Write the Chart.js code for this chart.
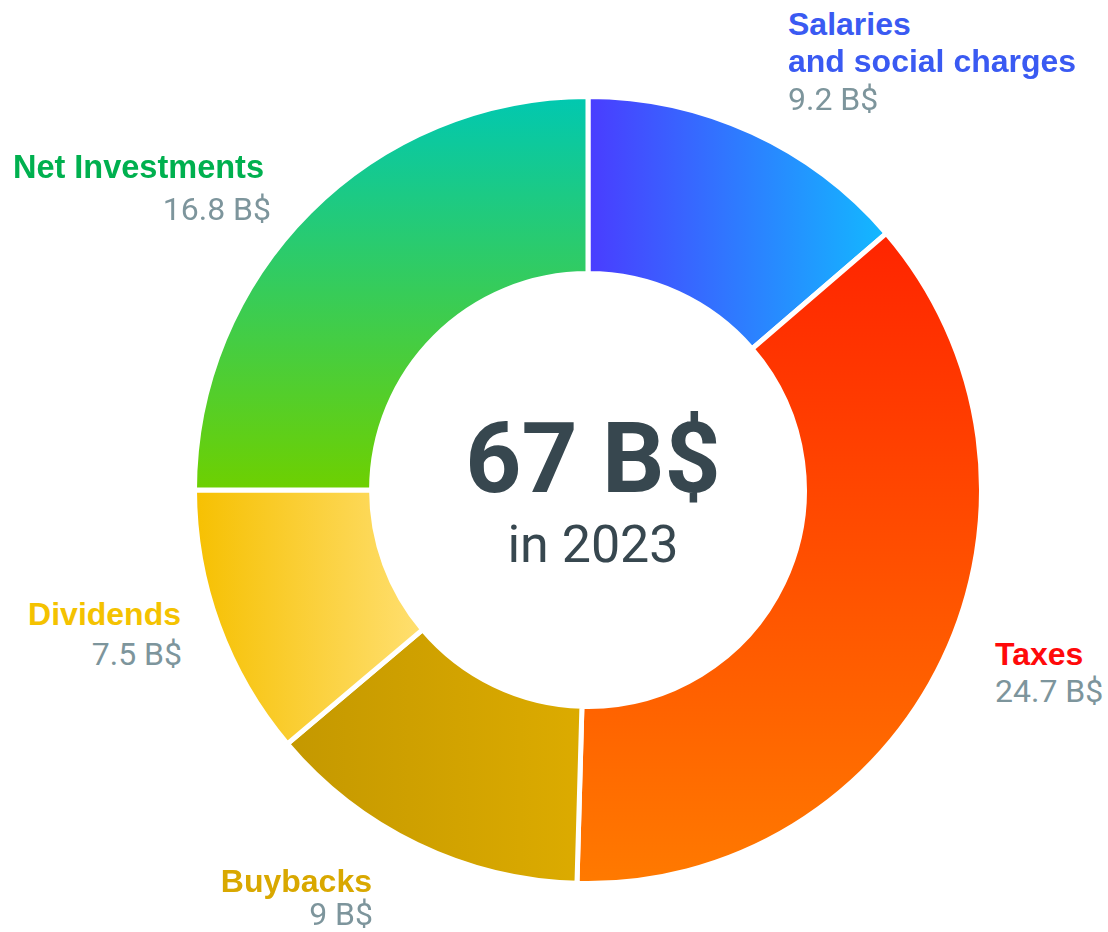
<!DOCTYPE html>
<html>
<head>
<meta charset="utf-8">
<script src="https://cdn.jsdelivr.net/npm/chart.js@4.4.1/dist/chart.umd.min.js"></script>
<style>
    html, body { margin: 0; padding: 0; background: #fff; }
    body { width: 1108px; height: 932px; position: relative; overflow: hidden; }
    #chartBox { position: absolute; left: 192px; top: 94px; width: 792px; height: 792px; }
    .lbl { position: absolute; white-space: nowrap; line-height: 1; }
    .title { font-family: "Liberation Sans", Arial, sans-serif; font-weight: bold; font-size: 32px; }
    .val { font-family: Roboto, sans-serif; font-size: 32px; color: #7d959c; }
    .center { position: absolute; left: 393px; width: 400px; text-align: center; font-family: Roboto, sans-serif; color: #37474f; line-height: 1; }
</style>
</head>
<body>
<div id="chartBox"><canvas id="chartRef"></canvas></div>

<div class="lbl title" id="t0" style="left:788px; top:8px;"></div>
<div class="lbl title" id="t0b" style="left:788px; top:45px;"></div>
<div class="lbl val" id="v0" style="left:788px; top:83px;"></div>

<div class="lbl title" id="t1" style="left:995px; top:638px;"></div>
<div class="lbl val" id="v1" style="left:995px; top:675px;"></div>

<div class="lbl title" id="t2" style="right:736px; top:865px;"></div>
<div class="lbl val" id="v2" style="right:735px; top:898px;"></div>

<div class="lbl title" id="t3" style="right:927px; top:598px;"></div>
<div class="lbl val" id="v3" style="right:926px; top:638px;"></div>

<div class="lbl title" id="t4" style="right:844px; top:151px; font-size:32.5px;"></div>
<div class="lbl val" id="v4" style="right:837px; top:193px;"></div>

<div class="center" id="totalText" style="top:410px; font-size:98px; font-weight:bold;"></div>
<div class="center" id="yearText" style="top:519px; font-size:52px;"></div>

<script>
// data
const categories = ["Salaries\nand social charges", "Taxes", "Buybacks", "Dividends", "Net Investments"];
const values = [9.2, 24.7, 9, 7.5, 16.8];
const year = "2023";
const unit = "B$";

// styling per segment: gradient direction, start/end colours, label colour
const gradDir = ["h", "v", "h", "h", "v"];
const gradFrom = ["#4a3cff", "#ff2400", "#c49800", "#f6c000", "#00c8b2"];
const gradTo = ["#12baff", "#ff7a00", "#dcab00", "#ffdf70", "#6ed000"];
const titleColors = ["#3a5af2", "#ff0a0a", "#d9a800", "#f4c200", "#00b04f"];

document.addEventListener("DOMContentLoaded", () => {
    // labels
    categories.forEach((c, i) => {
        const lines = c.split("\n");
        const t = document.getElementById("t" + i);
        t.textContent = lines[0];
        t.style.color = titleColors[i];
        if (lines[1]) {
            const tb = document.getElementById("t" + i + "b");
            tb.textContent = lines[1];
            tb.style.color = titleColors[i];
        }
        document.getElementById("v" + i).textContent = `${values[i]} ${unit}`;
    });
    const total = values.reduce((a, b) => a + b, 0);
    document.getElementById("totalText").textContent = `${Math.round(total)} ${unit}`;
    document.getElementById("yearText").textContent = `in ${year}`;

    const cutoutPct = 55;

    // gradient along the bounding box of each ring sector
    const segGradient = (context) => {
        const chart = context.chart;
        const i = context.dataIndex;
        const area = chart.chartArea;
        if (!area) return gradFrom[i];
        const cx = (area.left + area.right) / 2;
        const cy = (area.top + area.bottom) / 2;
        const R = Math.min(area.width, area.height) / 2;
        const r = R * cutoutPct / 100;
        let before = 0;
        for (let k = 0; k < i; k++) before += values[k];
        const a0 = before / total * Math.PI * 2;
        const a1 = (before + values[i]) / total * Math.PI * 2;
        let minX = Infinity, maxX = -Infinity, minY = Infinity, maxY = -Infinity;
        for (let s = 0; s <= 60; s++) {
            const a = a0 + (a1 - a0) * s / 60;
            [R, r].forEach((rad) => {
                const x = cx + rad * Math.sin(a);
                const y = cy - rad * Math.cos(a);
                minX = Math.min(minX, x); maxX = Math.max(maxX, x);
                minY = Math.min(minY, y); maxY = Math.max(maxY, y);
            });
        }
        const g = gradDir[i] === "h"
            ? chart.ctx.createLinearGradient(minX, 0, maxX, 0)
            : chart.ctx.createLinearGradient(0, minY, 0, maxY);
        g.addColorStop(0, gradFrom[i]);
        g.addColorStop(1, gradTo[i]);
        return g;
    };

    const ctx = document.getElementById("chartRef").getContext("2d");
    new Chart(ctx, {
        type: "doughnut",
        data: {
            labels: categories,
            datasets: [{
                data: values,
                backgroundColor: segGradient,
                borderColor: "#ffffff",
                borderWidth: 5,
                hoverOffset: 0,
            }],
        },
        options: {
            responsive: true,
            maintainAspectRatio: false,
            animation: false,
            cutout: cutoutPct + "%",
            layout: { padding: 0 },
            plugins: {
                legend: { display: false },
                tooltip: { enabled: false },
            },
        },
    });
});
</script>
</body>
</html>
